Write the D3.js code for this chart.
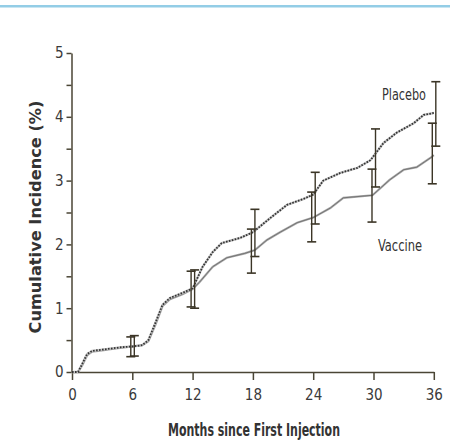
<!DOCTYPE html>
<html>
<head>
<meta charset="utf-8">
<script src="https://cdn.jsdelivr.net/npm/d3@7"></script>
<style>
body{margin:0;background:#fff;}
svg{display:block;}
</style>
</head>
<body>
<svg id="chart" width="450" height="442"></svg>
<script>
// curve points
var placeboMonths=[0,0.6,1.0,1.5,2.0,3.0,4.0,5.0,6.0,7.0,7.6,8.3,9.0,9.75,11,12,13,14,14.9,16.7,18,19.7,21.4,23,24,25,26.7,28.4,29.7,31,32.3,34,35,36];
var placeboValues=[0,0,0.12,0.28,0.33,0.35,0.37,0.39,0.40,0.42,0.50,0.77,1.05,1.16,1.24,1.31,1.65,1.88,2.02,2.10,2.19,2.41,2.62,2.71,2.78,3.00,3.12,3.20,3.32,3.59,3.75,3.90,4.03,4.06];

var vaccineMonths=[0,0.6,1.0,1.5,2.0,3.0,4.0,5.0,6.0,7.0,7.6,8.3,9.0,9.75,11,12,12.7,14,15.4,17.2,18.2,19.4,20.7,22.4,24,25.7,27,29.9,31.6,33,34.3,35.8,36];
var vaccineValues=[0,0,0.10,0.26,0.32,0.34,0.36,0.38,0.40,0.42,0.48,0.74,1.03,1.14,1.22,1.30,1.41,1.65,1.79,1.86,1.91,2.07,2.19,2.34,2.42,2.57,2.73,2.77,3.01,3.17,3.21,3.37,3.40];

// confidence bars
var barMonths=[6,12,18,24,30,36];
var placeboLow=[0.25,1.00,1.81,2.32,2.90,3.54];
var placeboHigh=[0.57,1.60,2.55,3.13,3.81,4.55];
var vaccineLow=[0.24,1.02,1.55,2.04,2.35,2.95];
var vaccineHigh=[0.55,1.58,2.24,2.82,3.18,3.90];

var xTicks=[0,6,12,18,24,30,36];
var yTicks=[0,0.5,1,1.5,2,2.5,3,3.5,4,4.5,5];

var svg=d3.select("#chart");
var axisColor="#4a4535";
var narrow="'Liberation Sans Narrow','DejaVu Sans Condensed',sans-serif";

svg.append("rect").attr("x",0).attr("y",5).attr("width",450).attr("height",2.5).attr("fill","#93cde6");

var x=d3.scaleLinear().domain([0,36]).range([72,433.8]);
var y=d3.scaleLinear().domain([0,5]).range([372,53]);

var gy=svg.append("g").attr("transform","translate(71.5,0)")
    .call(d3.axisLeft(y).tickValues(yTicks).tickSize(5).tickSizeOuter(0).tickPadding(3)
        .tickFormat(function(d){ return d%1===0 ? d : ""; }));
var gx=svg.append("g").attr("transform","translate(0,372)")
    .call(d3.axisBottom(x).tickValues(xTicks).tickSize(8).tickSizeOuter(0).tickPadding(9));

[gx,gy].forEach(function(g){
    g.selectAll("path,line").attr("stroke",axisColor).attr("stroke-width",1.5);
    g.selectAll("text").attr("fill","#3a3a3a").style("font-family",narrow).style("font-size","15px")
        .style("font-stretch","condensed");
});

function lineData(ms,vs){
    return ms.map(function(m,i){ return [m,vs[i]]; });
}
var line=d3.line().x(function(d){ return x(d[0]); }).y(function(d){ return y(d[1]); });

var vac=lineData(vaccineMonths,vaccineValues);
var pla=lineData(placeboMonths,placeboValues);

svg.append("path").attr("d",line(vac)).attr("fill","none").attr("stroke","#aaaaaa").attr("stroke-width",2.2);
svg.append("path").attr("d",line(vac)).attr("fill","none").attr("stroke","#666").attr("stroke-width",0.8);

svg.append("path").attr("d",line(pla)).attr("fill","none").attr("stroke","#c4c4c4").attr("stroke-width",2.4);
svg.append("path").attr("d",line(pla)).attr("fill","none").attr("stroke","#333").attr("stroke-width",1.8)
    .attr("stroke-dasharray","1.6,1.4");

function drawBars(lows,highs,shift){
    barMonths.forEach(function(m,i){
        var bx=x(m+shift);
        svg.append("line").attr("x1",bx).attr("x2",bx).attr("y1",y(lows[i])).attr("y2",y(highs[i]))
            .attr("stroke","#3b3526").attr("stroke-width",1.4);
        [lows[i],highs[i]].forEach(function(v){
            svg.append("line").attr("x1",bx-4.5).attr("x2",bx+4.5).attr("y1",y(v)).attr("y2",y(v))
                .attr("stroke","#3b3526").attr("stroke-width",1.6);
        });
    });
}
drawBars(vaccineLow,vaccineHigh,-0.15);
drawBars(placeboLow,placeboHigh,0.2);

svg.append("text").attr("x",404).attr("y",100).attr("text-anchor","middle")
    .style("font-family",narrow).style("font-size","15px").attr("fill","#333")
    .attr("textLength",44).attr("lengthAdjust","spacingAndGlyphs").text("Placebo");
svg.append("text").attr("x",400).attr("y",251).attr("text-anchor","middle")
    .style("font-family",narrow).style("font-size","15px").attr("fill","#333")
    .attr("textLength",44).attr("lengthAdjust","spacingAndGlyphs").text("Vaccine");

svg.append("text").attr("transform","translate(41,217) rotate(-90)").attr("text-anchor","middle")
    .style("font-family","'DejaVu Sans',sans-serif").style("font-weight","bold").style("font-size","15px")
    .attr("textLength",233).attr("lengthAdjust","spacingAndGlyphs")
    .attr("fill","#333").text("Cumulative Incidence (%)");

svg.append("text").attr("x",254).attr("y",436).attr("text-anchor","middle")
    .style("font-family",narrow).style("font-weight","bold").style("font-size","17px")
    .attr("textLength",172).attr("lengthAdjust","spacingAndGlyphs")
    .attr("fill","#333").text("Months since First Injection");
</script>
</body>
</html>
